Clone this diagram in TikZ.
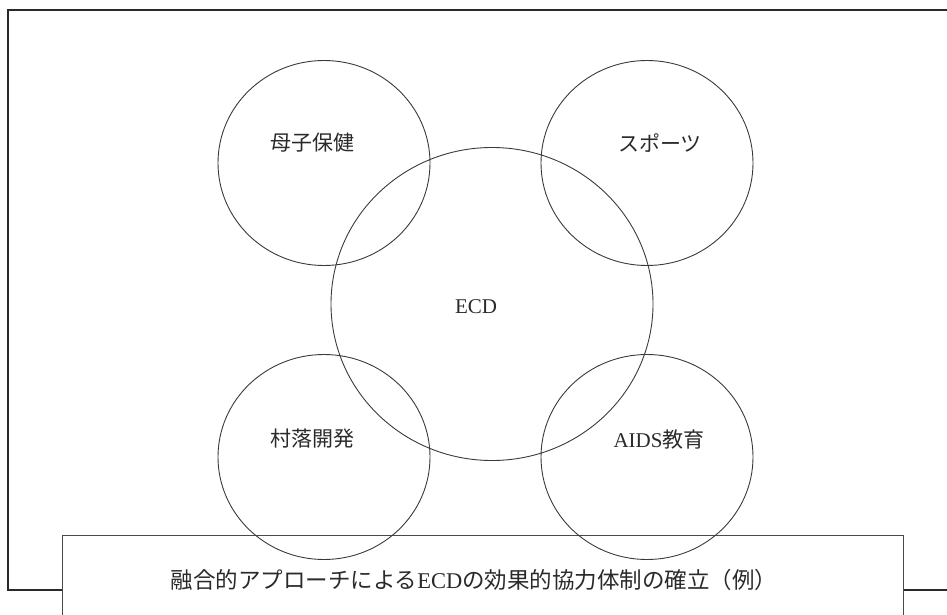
\documentclass[tikz,border=0pt]{standalone}
\usepackage{fontspec}
\setmainfont{Liberation Serif}
\newfontfamily\jp{Noto Sans CJK JP}
\usetikzlibrary{shapes.geometric}
\definecolor{ink}{HTML}{2A2A2A}
\definecolor{ring}{HTML}{3A3A3A}
\tikzset{
  frameline/.style={draw=ink, line width=1.6pt},
  boxline/.style={draw=ink!85, line width=1.3pt},
  ringshape/.style={draw=ring, line width=0.9pt, ellipse, inner sep=0pt},
  lbl/.style={font=\fontsize{21}{24}\selectfont, text=ink, inner sep=0pt},
  caplbl/.style={font=\fontsize{22.5}{26}\selectfont, text=ink, inner sep=0pt},
}
\begin{document}
\begin{tikzpicture}[x=1pt,y=-1pt]
\useasboundingbox (0,0) rectangle (947,615);
\clip (0,0) rectangle (947,615);
% outer frame (extends off the right and partly hidden by caption box)
\coordinate (f1) at (8,590);
\coordinate (f2) at (8,10);
\coordinate (f3) at (960,10);
\coordinate (f4) at (62,590);
\coordinate (f5) at (903,590);
\coordinate (f6) at (960,590);
\draw[frameline] (f4) -- (f1) -- (f2) -- (f3);
\draw[frameline] (f5) -- (f6);
% caption box
\node[boxline, rectangle, minimum width=841pt, minimum height=100pt, anchor=north west, inner sep=0pt] (cap) at (62,535) {};
% circles
\node[ringshape, minimum width=212pt, minimum height=205pt] (c1) at (324,163) {};
\node[ringshape, minimum width=212pt, minimum height=205pt] (c2) at (647,163) {};
\node[ringshape, minimum width=322pt, minimum height=313pt] (c0) at (492,304) {};
\node[ringshape, minimum width=212pt, minimum height=205pt] (c3) at (324,457) {};
\node[ringshape, minimum width=212pt, minimum height=205pt] (c4) at (647,457) {};
% labels
\node[lbl] (t1) at (312,143) {\jp 母子保健};
\node[lbl] (t2) at (660,143) {\jp スポーツ};
\node[lbl] (t0) at (476,307) {ECD};
\node[lbl] (t3) at (312,439) {\jp 村落開発};
\node[lbl] (t4) at (659,440) {AIDS\jp 教育};
\node[caplbl] (tc) at (474,580) {\jp 融合的アプローチによる\rmfamily ECD\jp の効果的協力体制の確立（例）};
\end{tikzpicture}
\end{document}
